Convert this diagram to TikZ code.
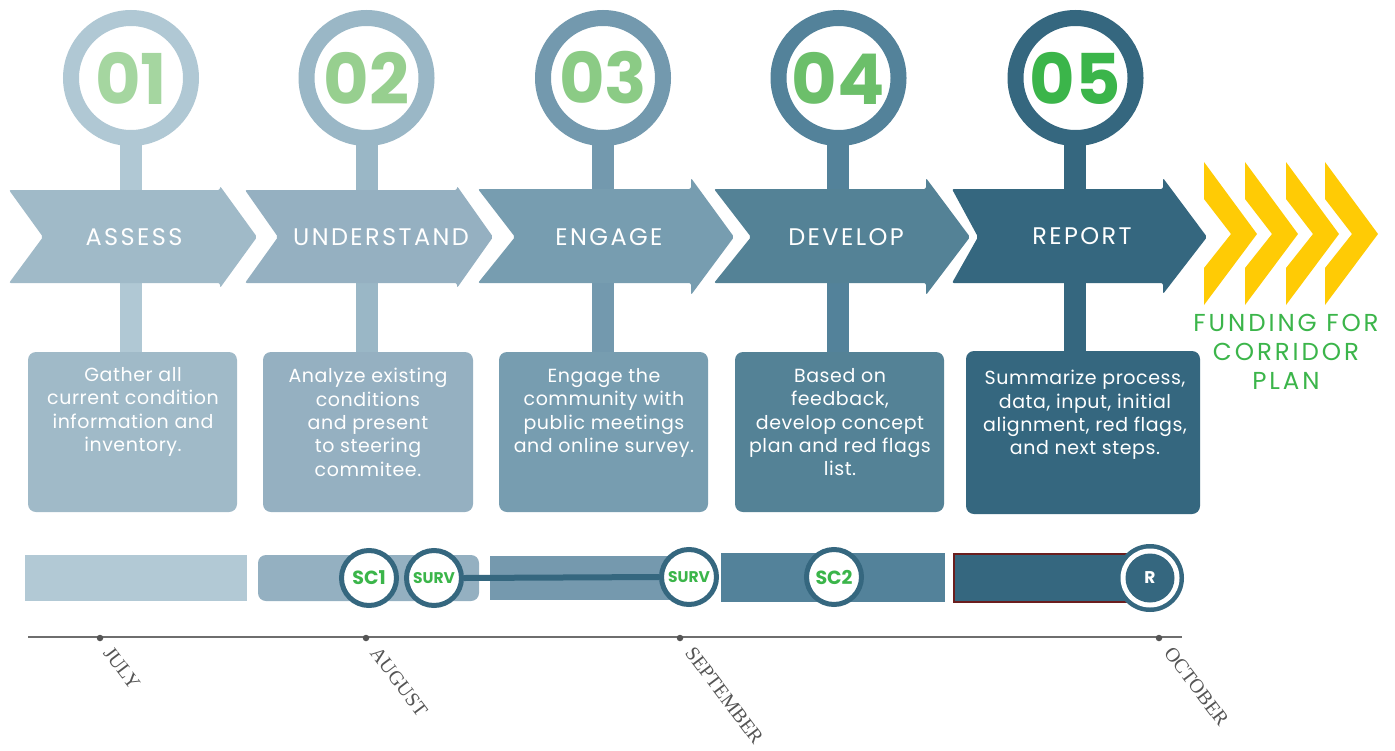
\documentclass[tikz,border=0pt]{standalone}
\usepackage{fontspec}
\setmainfont{Poppins}
\newfontfamily\spacedfont[LetterSpace=10]{Poppins}
\newfontfamily\widefont[LetterSpace=12]{Poppins}
\newfontfamily\descfont[LetterSpace=3]{Poppins}
\newfontfamily\monthfont{Liberation Serif}
\definecolor{cA}{HTML}{B0C8D4}
\definecolor{cB}{HTML}{9AB7C6}
\definecolor{cC}{HTML}{7399AE}
\definecolor{cD}{HTML}{53829A}
\definecolor{cE}{HTML}{35677F}
\definecolor{aA}{HTML}{A0BAC8}
\definecolor{aB}{HTML}{95B0C1}
\definecolor{aC}{HTML}{779DB0}
\definecolor{aD}{HTML}{548296}
\definecolor{aE}{HTML}{35677F}
\definecolor{bA}{HTML}{B2C9D5}
\definecolor{bB}{HTML}{94B0C1}
\definecolor{bC}{HTML}{7599AE}
\definecolor{nA}{HTML}{A5D6A0}
\definecolor{nB}{HTML}{97CF8F}
\definecolor{nC}{HTML}{8BCB85}
\definecolor{nD}{HTML}{6CBF6A}
\definecolor{nE}{HTML}{3BB54A}
\definecolor{gold}{HTML}{FFCB05}
\definecolor{leaf}{HTML}{3BB54A}
\definecolor{axisgray}{HTML}{6E6E6E}
\definecolor{monthgray}{HTML}{555555}
\definecolor{brick}{HTML}{6B1E1E}
\begin{document}
\begin{tikzpicture}[x=1pt,y=-1pt,
  numring/.style={circle, draw=#1, line width=16pt, fill=white, minimum size=120pt, inner sep=0pt,
    font=\fontsize{70}{70}\selectfont\bfseries},
  stem/.style={fill=#1},
  arrowshape/.style={fill=#1, rounded corners=2pt},
  arrowtext/.style={text=white, inner sep=0pt, font=\fontsize{24}{26}\spacedfont},
  descbox/.style={fill=#1, rounded corners=8pt},
  desc/.style={text=white, inner sep=0pt, align=center, anchor=north,
    font=\fontsize{19}{23.4}\descfont},
  milestone/.style={circle, draw=cE, line width=5pt, fill=white, minimum size=55pt, inner sep=0pt,
    text=leaf, font=\fontsize{19}{19}\selectfont\bfseries},
  survey/.style={milestone, font=\fontsize{15.5}{16}\selectfont\bfseries},
  tick/.style={circle, fill=monthgray, minimum size=6.5pt, inner sep=0pt},
  month/.style={text=monthgray, inner sep=0pt, rotate=-53, anchor=north west,
    font=\fontsize{20}{20}\monthfont},
  chevron/.style={fill=gold},
  goal/.style={text=leaf, align=center, inner sep=0pt, font=\fontsize{24.5}{29}\widefont}]

\useasboundingbox[fill=white] (0,0) rectangle (1395,750);

% stems joining each number to its step box
\fill[stem=cA] (120,135) rectangle (142,352);
\fill[stem=cB] (356,135) rectangle (378,352);
\fill[stem=cC] (592,135) rectangle (614,352);
\fill[stem=cD] (827,135) rectangle (849,352);
\fill[stem=cE] (1064,135) rectangle (1086,352);

% step arrows
\fill[arrowshape=aA] (9,190) -- (220,190) -- (220,186) -- (257,237) -- (220,288) -- (220,283) -- (9,283) -- (43,237) -- cycle;
\fill[arrowshape=aB] (245,190) -- (457,190) -- (457,186) -- (493,237) -- (457,288) -- (457,283) -- (245,283) -- (278,237) -- cycle;
\fill[arrowshape=aC] (478,189) -- (691,189) -- (691,178) -- (734,237) -- (691,295) -- (691,283) -- (478,283) -- (515,237) -- cycle;
\fill[arrowshape=aD] (714,189) -- (926,189) -- (926,178) -- (970,237) -- (926,295) -- (926,283) -- (714,283) -- (751,237) -- cycle;
\fill[arrowshape=aE] (952,189) -- (1163,189) -- (1163,178) -- (1207,237) -- (1163,294) -- (1163,283) -- (952,283) -- (978,237) -- cycle;

\node[arrowtext] (t1) at (134,237.5) {ASSESS};
\node[arrowtext] (t2) at (381,237.5) {UNDERSTAND};
\node[arrowtext] (t3) at (609,237.5) {ENGAGE};
\node[arrowtext] (t4) at (846,237.5) {DEVELOP};
\node[arrowtext] (t5) at (1082,236) {REPORT};

% numbered rings
\node[numring=cA, text=nA] (n1) at (131,78) {01};
\node[numring=cB, text=nB] (n2) at (366.5,78) {02};
\node[numring=cC, text=nC] (n3) at (603,78) {03};
\node[numring=cD, text=nD] (n4) at (838.5,78) {04};
\node[numring=cE, text=nE] (n5) at (1075.5,78) {05};

% description boxes
\fill[descbox=aA] (28,352) rectangle (237,512);
\fill[descbox=aB] (263,352) rectangle (473,512);
\fill[descbox=aC] (499,352) rectangle (708,512);
\fill[descbox=aD] (735,352) rectangle (944,512);
\fill[descbox=aE] (966,351) rectangle (1200,514);

\node[desc] (d1) at (133,367) {Gather all\\current condition\\information and\\inventory.};
\node[desc] (d2) at (368,368) {Analyze existing\\conditions\\and present\\to steering\\commitee.};
\node[desc] (d3) at (604,368) {Engage the\\community with\\public meetings\\and online survey.};
\node[desc] (d4) at (840,368) {Based on\\feedback,\\develop concept\\plan and red flags\\list.};
\node[desc] (d5) at (1085,370) {Summarize process,\\data, input, initial\\alignment, red flags,\\and next steps.};

% yellow chevrons and goal
\foreach \l in {1204,1245,1286,1325}{
  \fill[chevron] (\l,162) -- (\l+53,234) -- (\l,305) -- (\l,268) -- (\l+27,234) -- (\l,199) -- cycle;
}
\node[goal] (goal) at (1286,352) {FUNDING FOR\\CORRIDOR\\PLAN};

% schedule bars
\fill[bA] (25,555) rectangle (247,601);
\fill[bB, rounded corners=8pt] (258,555) rectangle (479,601);
\fill[bC] (490,556) rectangle (690,600);
\fill[cD] (721,553) rectangle (945,602);
\filldraw[fill=cE, draw=brick, line width=2pt] (954,554) rectangle (1150,602);

% milestones
\node[milestone] (sc1) at (369,578) {SC1};
\node[survey] (sv1) at (434,578) {SURV};
\node[survey] (sv2) at (689,577) {SURV};
\draw[cE, line width=6pt] (sv1.east) -- (sv2.west);
\node[milestone] (sc2) at (834,577) {SC2};
\fill[cE] (1150,578) circle[radius=34];
\fill[white] (1150,578) circle[radius=29.5];
\node[circle, fill=cE, minimum size=49pt, inner sep=0pt, text=white,
  font=\fontsize{17}{17}\selectfont\bfseries] (rep) at (1150,578) {R};

% time axis
\coordinate (axL) at (28,637);
\coordinate (axR) at (1182,637);
\draw[axisgray, line width=2pt] (axL) -- (axR);
\node[tick] (jul) at (100,638) {};
\node[tick] (aug) at (366,638) {};
\node[tick] (sep) at (680,638) {};
\node[tick] (oct) at (1159,638) {};
\node[month] (mjul) at (113,645) {JULY};
\node[month] (maug) at (380,645) {AUGUST};
\node[month] (msep) at (695,645) {SEPTEMBER};
\node[month] (moct) at (1174,645) {OCTOBER};
\end{tikzpicture}
\end{document}
